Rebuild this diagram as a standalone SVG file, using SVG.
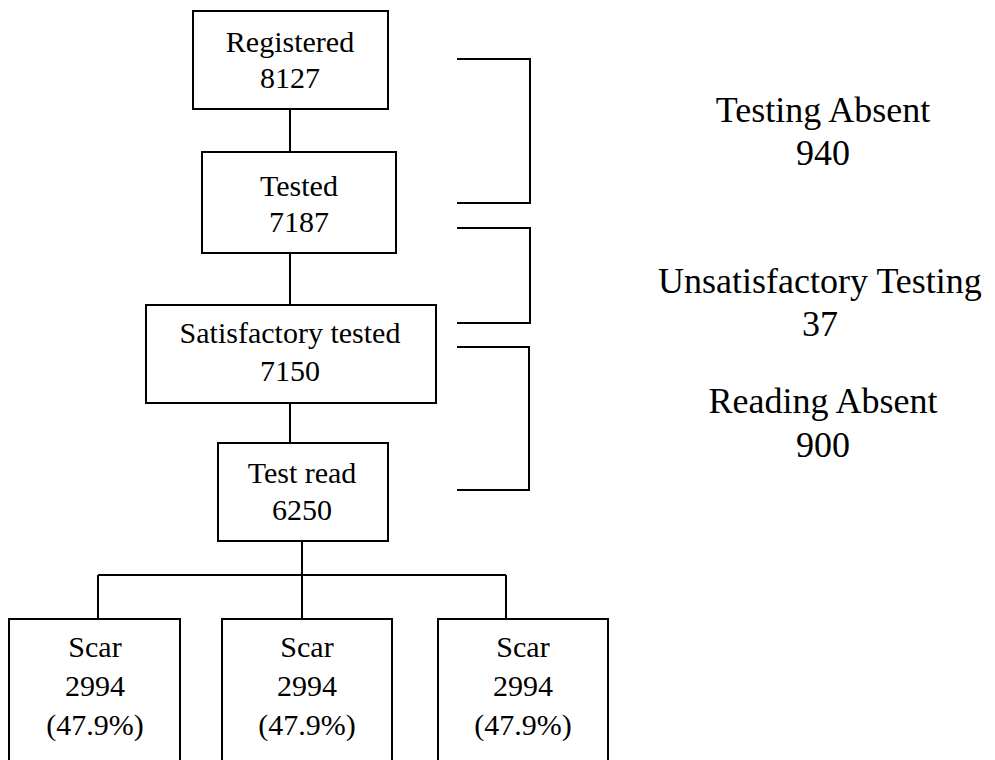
<svg xmlns="http://www.w3.org/2000/svg" width="995" height="760" viewBox="0 0 995 760">
<style>
.box{fill:#fff;stroke:#000;stroke-width:2}
.ln{fill:none;stroke:#000;stroke-width:2}
.t{font-family:"Liberation Serif","Times New Roman",serif;font-size:30px;fill:#000;text-anchor:middle}
.r{font-family:"Liberation Serif","Times New Roman",serif;font-size:36px;fill:#000;text-anchor:middle}
</style>
<rect width="995" height="760" fill="#fff"/>
<g id="connectors">
<path class="ln" d="M290,109 V152"/>
<path class="ln" d="M290,253 V305"/>
<path class="ln" d="M290,403 V443"/>
<path class="ln" d="M302,541 V575"/>
<path class="ln" d="M98,575 H506"/>
<path class="ln" d="M98,575 V619"/>
<path class="ln" d="M302,575 V619"/>
<path class="ln" d="M506,575 V619"/>
<path class="ln" d="M457,59 H530 V203 H457"/>
<path class="ln" d="M457,228 H530 V323 H457"/>
<path class="ln" d="M457,347 H529 V490 H457"/>
</g>
<g id="registered">
<rect class="box" x="193" y="11" width="195" height="98"/>
<text class="t" x="290" y="52">Registered</text>
<text class="t" x="290" y="88">8127</text>
</g>
<g id="tested">
<rect class="box" x="202" y="152" width="194" height="101"/>
<text class="t" x="299" y="196">Tested</text>
<text class="t" x="299" y="232">7187</text>
</g>
<g id="satisfactory">
<rect class="box" x="146" y="305" width="290" height="98"/>
<text class="t" x="290" y="343">Satisfactory tested</text>
<text class="t" x="290" y="381">7150</text>
</g>
<g id="testread">
<rect class="box" x="218" y="443" width="170" height="98"/>
<text class="t" x="302" y="483">Test read</text>
<text class="t" x="302" y="520">6250</text>
</g>
<g id="scar1">
<rect class="box" x="9" y="619" width="171" height="160"/>
<text class="t" x="95" y="657">Scar</text>
<text class="t" x="95" y="696">2994</text>
<text class="t" x="95" y="735">(47.9%)</text>
</g>
<g id="scar2">
<rect class="box" x="222" y="619" width="170" height="160"/>
<text class="t" x="307" y="657">Scar</text>
<text class="t" x="307" y="696">2994</text>
<text class="t" x="307" y="735">(47.9%)</text>
</g>
<g id="scar3">
<rect class="box" x="438" y="619" width="170" height="160"/>
<text class="t" x="523" y="657">Scar</text>
<text class="t" x="523" y="696">2994</text>
<text class="t" x="523" y="735">(47.9%)</text>
</g>
<g id="testing-absent">
<text class="r" x="823" y="122">Testing Absent</text>
<text class="r" x="823" y="165">940</text>
</g>
<g id="unsatisfactory-testing">
<text class="r" x="820" y="293">Unsatisfactory Testing</text>
<text class="r" x="820" y="336">37</text>
</g>
<g id="reading-absent">
<text class="r" x="823" y="413">Reading Absent</text>
<text class="r" x="823" y="457">900</text>
</g>
</svg>
